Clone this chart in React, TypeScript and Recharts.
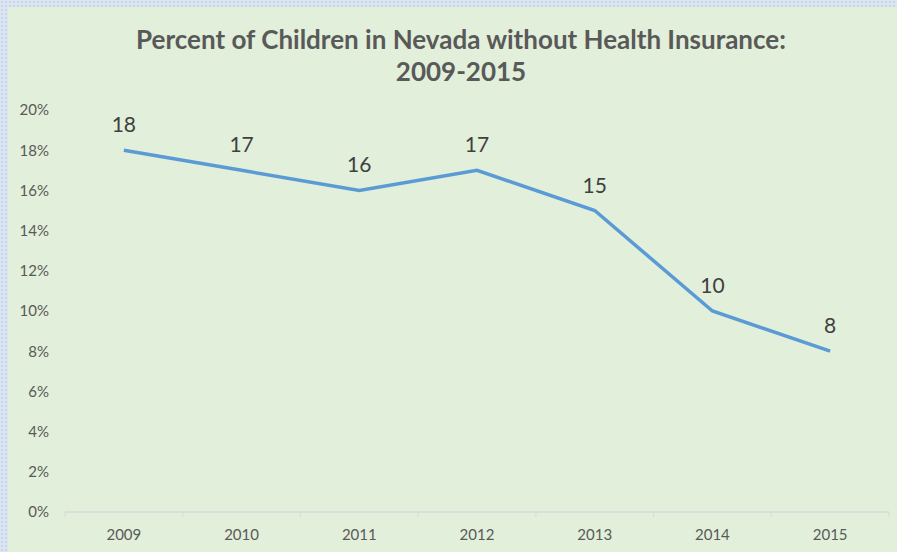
import React from "react";
import { LineChart, Line, XAxis, YAxis, LabelList } from "recharts";

const years = ["2009", "2010", "2011", "2012", "2013", "2014", "2015"];
const percentUninsured = [18, 17, 16, 17, 15, 10, 8];
const yTicks = [0, 2, 4, 6, 8, 10, 12, 14, 16, 18, 20];

const data = years.map((year, i) => ({ year, value: percentUninsured[i] }));

const PANEL_W = 889;
const PANEL_H = 545;
const MARGIN = { top: 103, right: 8, left: 0, bottom: 0 };
const Y_WIDTH = 57;
const PLOT_W = PANEL_W - MARGIN.left - MARGIN.right - Y_WIDTH;
const BAND = PLOT_W / years.length;

const FONT = "Lato, 'Open Sans', sans-serif";

const XTick = (props: any) => {
  const { x, y, payload, index } = props;
  const half = BAND / 2;
  return (
    <g>
      <line x1={x - half} x2={x - half} y1={y} y2={y + 5} stroke="#D9D9D9" strokeWidth={1} />
      {index === years.length - 1 && (
        <line x1={x + half} x2={x + half} y1={y} y2={y + 5} stroke="#D9D9D9" strokeWidth={1} />
      )}
      <text
        x={x}
        y={y + 28}
        textAnchor="middle"
        fill="#595959"
        fontSize={15}
        fontFamily={FONT}
      >
        {payload.value}
      </text>
    </g>
  );
};

export default function App() {
  return (
    <div
      style={{
        position: "absolute",
        left: 0,
        top: 0,
        width: 897,
        height: 552,
        backgroundColor: "#DCE6F2",
        backgroundImage:
          "radial-gradient(circle, rgba(180,200,225,0.55) 0.8px, transparent 1.2px)",
        backgroundSize: "4px 4px",
        overflow: "hidden",
      }}
    >
      <div
        style={{
          position: "absolute",
          left: 8,
          top: 7,
          width: PANEL_W,
          height: PANEL_H,
          backgroundColor: "#E2EFDA",
        }}
      >
        <div
          style={{
            position: "absolute",
            left: 0,
            top: 16,
            width: 906,
            textAlign: "center",
            fontFamily: FONT,
            fontWeight: 700,
            fontSize: 26,
            lineHeight: "32px",
            color: "#595959",
          }}
        >
          Percent of Children in Nevada without Health Insurance:
          <br />
          2009-2015
        </div>
        <div style={{ position: "absolute", left: 0, top: 0 }}>
          <LineChart width={PANEL_W} height={PANEL_H} data={data} margin={MARGIN}>
            <XAxis
              dataKey="year"
              scale="band"
              height={40}
              axisLine={{ stroke: "#D9D9D9", strokeWidth: 1.5 }}
              tickLine={false}
              tickSize={0}
              tickMargin={0}
              interval={0}
              tick={<XTick />}
            />
            <YAxis
              width={Y_WIDTH}
              domain={[0, 20]}
              ticks={yTicks}
              interval={0}
              axisLine={false}
              tickLine={false}
              tickSize={0}
              tickMargin={16}
              tickFormatter={(v: number) => `${v}%`}
              tick={{ fill: "#595959", fontSize: 15, fontFamily: FONT }}
            />
            <Line
              type="linear"
              dataKey="value"
              stroke="#5B9BD5"
              strokeWidth={3.5}
              dot={false}
              activeDot={false}
              isAnimationActive={false}
            >
              <LabelList
                dataKey="value"
                position="top"
                offset={18}
                fill="#404040"
                fontSize={21}
                fontFamily={FONT}
              />
            </Line>
          </LineChart>
        </div>
      </div>
    </div>
  );
}
